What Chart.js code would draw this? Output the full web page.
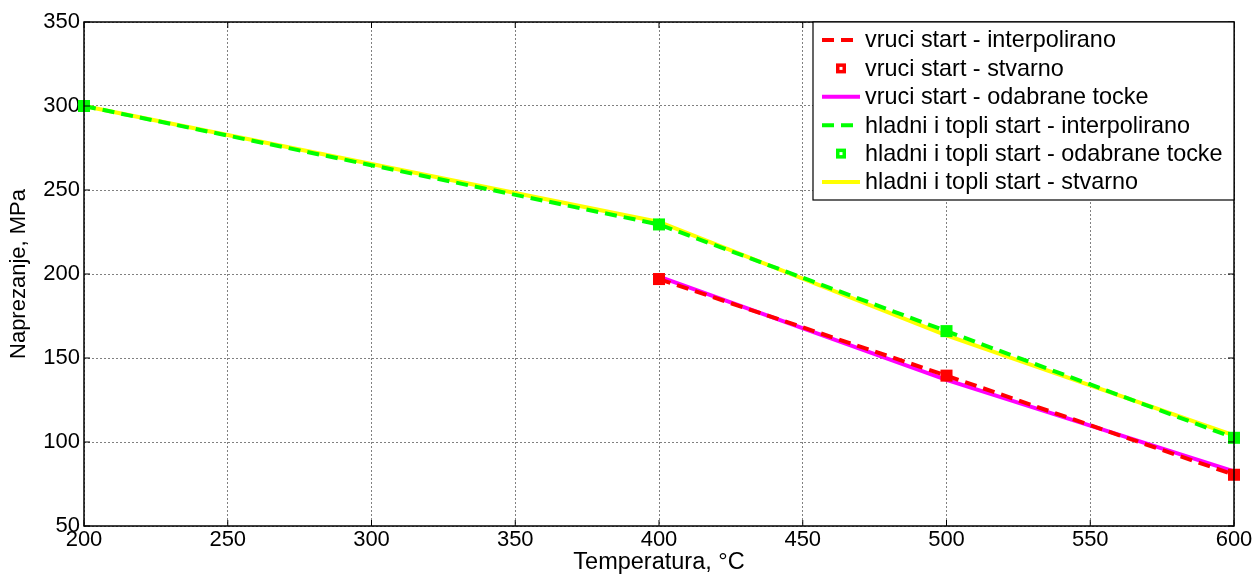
<!DOCTYPE html>
<html lang="hr">
<head>
    <meta charset="UTF-8">
    <title>Naprezanje - temperatura</title>
    <script src="https://cdn.jsdelivr.net/npm/chart.js@4.4.1/dist/chart.umd.min.js"></script>
    <style>
        html, body { margin: 0; padding: 0; background: white; }
        .chart-container { width: 1255px; height: 577px; position: relative; }
    </style>
</head>
<body>
    <div class="chart-container">
        <canvas id="stressChart"></canvas>
    </div>

    <script>
        // temperature points, °C
        const tempsCold = [200, 400, 500, 600];
        const tempsHot = [400, 500, 600];

        // stress, MPa
        const hotInterp = [197, 139.5, 80.5];
        const hotActual = [197, 139.5, 80.5];
        const hotSelected = [198.5, 137, 82.5];
        const coldInterp = [300, 229.5, 166, 102.5];
        const coldSelected = [300, 229.5, 166, 102.5];
        const coldActual = [300, 231, 163.5, 104];

        const xTicks = [200, 250, 300, 350, 400, 450, 500, 550, 600];
        const yTicks = [50, 100, 150, 200, 250, 300, 350];

        const FONT = "'Liberation Sans', Arial, sans-serif";

        function pts(xs, ys) {
            return xs.map((x, i) => ({ x: x, y: ys[i] }));
        }

        // black frame + inward tick marks (matlab style)
        const boxPlugin = {
            id: 'box',
            afterDatasetsDraw(chart) {
                const { ctx, chartArea: a, scales } = chart;
                ctx.save();
                ctx.strokeStyle = '#000';
                ctx.lineWidth = 1.5;
                ctx.strokeRect(a.left, a.top, a.right - a.left, a.bottom - a.top);
                ctx.lineWidth = 1;
                scales.x.ticks.forEach(t => {
                    const px = scales.x.getPixelForValue(t.value);
                    ctx.beginPath();
                    ctx.moveTo(px, a.bottom); ctx.lineTo(px, a.bottom - 6);
                    ctx.moveTo(px, a.top); ctx.lineTo(px, a.top + 6);
                    ctx.stroke();
                });
                scales.y.ticks.forEach(t => {
                    const py = scales.y.getPixelForValue(t.value);
                    ctx.beginPath();
                    ctx.moveTo(a.left, py); ctx.lineTo(a.left + 6, py);
                    ctx.moveTo(a.right, py); ctx.lineTo(a.right - 6, py);
                    ctx.stroke();
                });
                ctx.restore();
            }
        };

        // legend box inside the plot, top right
        const legendPlugin = {
            id: 'insideLegend',
            afterDraw(chart) {
                const { ctx, chartArea: a } = chart;
                const boxL = 813, boxT = a.top, boxR = a.right, boxB = 200;
                ctx.save();
                ctx.fillStyle = '#fff';
                ctx.fillRect(boxL, boxT, boxR - boxL, boxB - boxT);
                ctx.strokeStyle = '#000';
                ctx.lineWidth = 1.2;
                ctx.strokeRect(boxL, boxT, boxR - boxL, boxB - boxT);

                chart.data.datasets.forEach((ds, i) => {
                    const y = 40 + i * 28.4;
                    if (ds.showLine) {
                        ctx.strokeStyle = ds.borderColor;
                        ctx.lineWidth = ds.borderWidth;
                        ctx.setLineDash(ds.borderDash || []);
                        ctx.beginPath();
                        ctx.moveTo(822, y); ctx.lineTo(860, y);
                        ctx.stroke();
                        ctx.setLineDash([]);
                    } else {
                        ctx.fillStyle = ds.backgroundColor;
                        ctx.fillRect(836, y - 5, 10, 10);
                        ctx.fillStyle = '#fff';
                        ctx.fillRect(839.5, y - 1.5, 3, 3);
                    }
                    ctx.fillStyle = '#000';
                    ctx.font = '23.4px ' + FONT;
                    ctx.textBaseline = 'middle';
                    ctx.fillText(ds.label, 865, y + 1);
                });
                ctx.restore();
            }
        };

        const lineDs = (label, data, color, dash) => ({
            label: label,
            data: data,
            showLine: true,
            borderColor: color,
            backgroundColor: color,
            borderWidth: 4,
            borderDash: dash,
            pointRadius: 0,
            pointHoverRadius: 0,
            clip: false
        });

        const pointDs = (label, data, color) => ({
            label: label,
            data: data,
            showLine: false,
            borderColor: color,
            backgroundColor: color,
            pointStyle: 'rect',
            pointRadius: 8.5,
            pointHoverRadius: 8.5,
            pointBorderWidth: 0,
            clip: false,
            order: -1
        });

        new Chart(document.getElementById('stressChart'), {
            type: 'scatter',
            data: {
                datasets: [
                    lineDs('vruci start - interpolirano', pts(tempsHot, hotInterp), '#ff0000', [12, 7]),
                    pointDs('vruci start - stvarno', pts(tempsHot, hotActual), '#ff0000'),
                    lineDs('vruci start - odabrane tocke', pts(tempsHot, hotSelected), '#ff00ff', []),
                    lineDs('hladni i topli start - interpolirano', pts(tempsCold, coldInterp), '#00ff00', [12, 7]),
                    pointDs('hladni i topli start - odabrane tocke', pts(tempsCold, coldSelected), '#00ff00'),
                    lineDs('hladni i topli start - stvarno', pts(tempsCold, coldActual), '#ffff00', [])
                ]
            },
            options: {
                responsive: true,
                maintainAspectRatio: false,
                animation: false,
                layout: { padding: { top: 22, right: 21, left: 0, bottom: 0 } },
                plugins: {
                    legend: { display: false },
                    tooltip: { enabled: false }
                },
                scales: {
                    x: {
                        type: 'linear',
                        min: 200,
                        max: 600,
                        afterBuildTicks(scale) { scale.ticks = xTicks.map(v => ({ value: v })); },
                        afterFit(scale) { scale.height = 51; },
                        ticks: {
                            color: '#000',
                            font: { family: FONT, size: 22 },
                            padding: 1,
                            maxRotation: 0
                        },
                        grid: {
                            color: '#808080',
                            lineWidth: 1,
                            drawTicks: false
                        },
                        border: { display: false, dash: [2, 2] },
                        title: {
                            display: true,
                            text: 'Temperatura, °C',
                            color: '#000',
                            font: { family: FONT, size: 23.5 },
                            padding: { top: 0, bottom: 0 }
                        }
                    },
                    y: {
                        type: 'linear',
                        min: 50,
                        max: 350,
                        afterBuildTicks(scale) { scale.ticks = yTicks.map(v => ({ value: v })); },
                        afterFit(scale) { scale.width = 84; },
                        ticks: {
                            color: '#000',
                            font: { family: FONT, size: 22 },
                            padding: 4
                        },
                        grid: {
                            color: '#808080',
                            lineWidth: 1,
                            drawTicks: false
                        },
                        border: { display: false, dash: [2, 2] },
                        title: {
                            display: true,
                            text: 'Naprezanje, MPa',
                            color: '#000',
                            font: { family: FONT, size: 22 },
                            padding: { top: 6, bottom: 0 }
                        }
                    }
                }
            },
            plugins: [boxPlugin, legendPlugin]
        });
    </script>
</body>
</html>
